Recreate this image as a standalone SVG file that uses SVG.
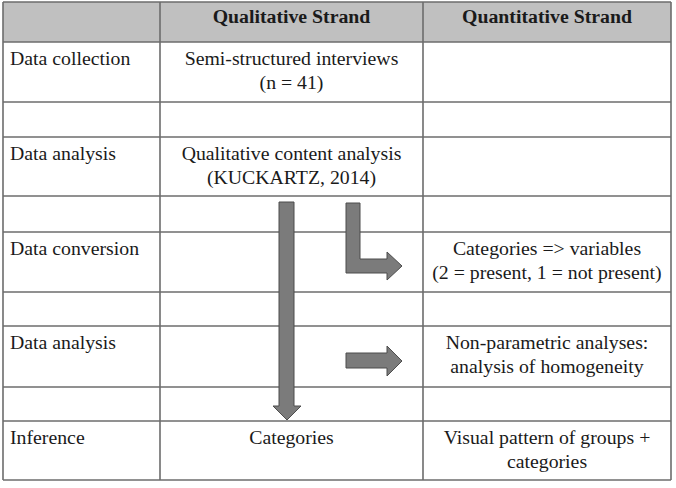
<svg xmlns="http://www.w3.org/2000/svg" width="676" height="488" viewBox="0 0 676 488" font-family="'Liberation Serif', 'DejaVu Serif', serif">
<style>
.bg{fill:#ffffff}
.hd{fill:#c0c0c0}
.grid{stroke:#6c6c6c;stroke-width:1.6;fill:none}
text{font-family:'Liberation Serif','DejaVu Serif',serif;font-size:19.8px;fill:#1a1a1a}
.b{font-weight:bold}
.c{text-anchor:middle}
.arr{fill:#7b7b7b;stroke:#4d4d4d;stroke-width:1}
</style>
<rect class="bg" x="0" y="0" width="676" height="488"/>
<g id="table">
<rect class="hd" x="3" y="2" width="668" height="40"/>
<g class="grid">
<line x1="3" y1="2" x2="671" y2="2"/>
<line x1="3" y1="42" x2="671" y2="42"/>
<line x1="3" y1="102" x2="671" y2="102"/>
<line x1="3" y1="137" x2="671" y2="137"/>
<line x1="3" y1="196" x2="671" y2="196"/>
<line x1="3" y1="232" x2="671" y2="232"/>
<line x1="3" y1="292" x2="671" y2="292"/>
<line x1="3" y1="326" x2="671" y2="326"/>
<line x1="3" y1="387" x2="671" y2="387"/>
<line x1="3" y1="421" x2="671" y2="421"/>
<line x1="3" y1="480" x2="671" y2="480"/>
<line x1="3" y1="2" x2="3" y2="480"/>
<line x1="160" y1="2" x2="160" y2="480"/>
<line x1="423" y1="2" x2="423" y2="480"/>
<line x1="671" y1="2" x2="671" y2="480"/>
</g>
</g>
<g id="header">
<text class="b c" x="291.5" y="23">Qualitative Strand</text>
<text class="b c" x="547" y="23">Quantitative Strand</text>
</g>
<g id="row-collection">
<text x="10" y="65">Data collection</text>
<text class="c" x="291.5" y="65">Semi-structured interviews</text>
<text class="c" x="291.5" y="89">(n = 41)</text>
</g>
<g id="row-analysis1">
<text x="10" y="160">Data analysis</text>
<text class="c" x="291.5" y="160">Qualitative content analysis</text>
<text class="c" x="291.5" y="184">(KUCKARTZ, 2014)</text>
</g>
<g id="row-conversion">
<text x="10" y="255">Data conversion</text>
<text class="c" x="547" y="255">Categories =&gt; variables</text>
<text class="c" x="547" y="279">(2 = present, 1 = not present)</text>
</g>
<g id="row-analysis2">
<text x="10" y="349">Data analysis</text>
<text class="c" x="547" y="349">Non-parametric analyses:</text>
<text class="c" x="547" y="373">analysis of homogeneity</text>
</g>
<g id="row-inference">
<text x="10" y="444">Inference</text>
<text class="c" x="291.5" y="444">Categories</text>
<text class="c" x="547" y="444">Visual pattern of groups +</text>
<text class="c" x="547" y="468">categories</text>
</g>
<g id="connectors">
<polygon class="arr" points="279,202 294,202 294,406 301,406 287,420 273,406 279,406"/>
<polygon class="arr" points="346,203 360,203 360,259 387,259 387,252 402,266 387,280 387,273 346,273"/>
<polygon class="arr" points="346,353 387,353 387,346 402,361 387,376 387,368 346,368"/>
</g>
</svg>
